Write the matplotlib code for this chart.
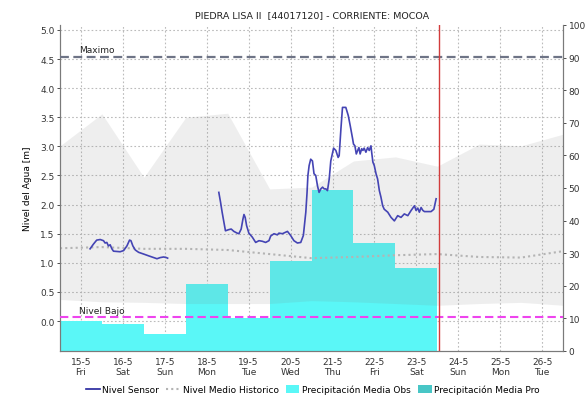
import matplotlib
matplotlib.use("Agg")

import numpy as np
import pandas as pd
import matplotlib.pyplot as plt
from matplotlib.lines import Line2D
from matplotlib.patches import Patch
from matplotlib.ticker import FixedLocator


# -------------------------------------------------
# DATA
# -------------------------------------------------

start = pd.Timestamp("2020-05-15 00:00")
n_days = 12

# sensor level (m), hours counted from 15-5 00:00
sensor_hours_a = [17.2, 19.1, 21.0, 23.0, 24.9, 25.8, 26.8, 27.7, 28.7, 29.7,
                  30.6, 34.4, 36.4, 38.3, 39.8, 40.6, 41.7, 43.1, 45.0, 47.9,
                  50.7, 53.6, 55.5, 57.4, 59.3, 60.9, 61.6]
sensor_level_a = [1.24, 1.32, 1.39, 1.40, 1.38, 1.34, 1.35, 1.29, 1.31, 1.24,
                  1.20, 1.19, 1.21, 1.29, 1.39, 1.38, 1.29, 1.22, 1.18, 1.15,
                  1.12, 1.09, 1.07, 1.09, 1.10, 1.09, 1.08]

sensor_hours_b = [90.9, 91.9, 92.8, 93.8, 94.7, 96.6, 98.0, 99.5, 101.4, 102.4,
                  103.7, 104.7, 105.3, 106.0, 106.8, 108.1, 110.1, 112.0, 113.9, 115.8,
                  117.7, 119.6, 120.6, 122.5, 124.4, 125.3, 127.3, 130.2, 132.0, 133.9,
                  135.9, 137.8, 139.3, 140.7, 141.4, 141.9, 142.6, 143.5, 144.5, 145.4,
                  146.4, 147.4, 148.3, 149.3, 150.3, 151.2, 152.2, 153.1, 154.1, 155.0,
                  156.6, 157.9, 159.2, 159.8, 160.8, 161.7, 163.6, 165.0, 166.1, 167.5,
                  168.0, 168.8, 169.6, 170.4, 171.1, 171.8, 172.7, 173.4, 174.1, 175.1,
                  176.1, 177.0, 178.0, 178.4, 179.1, 179.9, 180.9, 181.8, 182.8, 183.7,
                  184.7, 185.6, 187.6, 189.5, 191.4, 193.3, 195.2, 197.1, 199.1, 201.0,
                  202.9, 203.8, 204.8, 205.7, 206.7, 207.7, 208.6, 210.5, 212.4, 214.0,
                  215.3]
sensor_level_b = [2.21, 2.04, 1.87, 1.70, 1.55, 1.57, 1.58, 1.54, 1.51, 1.50,
                  1.58, 1.75, 1.83, 1.78, 1.64, 1.51, 1.44, 1.35, 1.38, 1.37,
                  1.35, 1.38, 1.46, 1.50, 1.48, 1.51, 1.50, 1.54, 1.47, 1.38,
                  1.34, 1.35, 1.47, 1.87, 2.20, 2.50, 2.67, 2.78, 2.75, 2.53,
                  2.50, 2.32, 2.21, 2.27, 2.30, 2.27, 2.27, 2.24, 2.44, 2.75,
                  2.97, 2.93, 2.81, 2.84, 3.30, 3.67, 3.67, 3.53, 3.36, 3.13,
                  3.04, 3.01, 2.87, 2.93, 2.98, 2.87, 2.96, 2.93, 2.97, 2.90,
                  2.98, 2.93, 3.01, 2.90, 2.73, 2.67, 2.53, 2.44, 2.24, 2.13,
                  1.98, 1.92, 1.87, 1.78, 1.72, 1.81, 1.78, 1.84, 1.81, 1.90,
                  1.98, 1.90, 1.94, 1.87, 1.95, 1.90, 1.88, 1.88, 1.88, 1.92,
                  2.10]

# historic band (min / max) and historic mean, one value per day at 00:00
hist_upper = [3.01, 3.56, 2.47, 3.50, 3.57, 2.27, 2.30, 2.75, 2.82, 2.66, 3.04, 3.01, 3.21]
hist_lower = [0.37, 0.33, 0.32, 0.30, 0.30, 0.30, 0.35, 0.33, 0.30, 0.27, 0.30, 0.32, 0.27]
hist_mean = [1.25, 1.27, 1.24, 1.24, 1.22, 1.15, 1.08, 1.10, 1.13, 1.15, 1.10, 1.09, 1.20]

# daily precipitation (mm), observed 15-5..23-5 and forecast 24-5..26-5
precip_obs = [9.2, 8.2, 5.3, 20.5, 10.0, 27.6, 49.5, 33.0, 25.6]
precip_pro = [0.0, 0.0, 0.0]

nivel_maximo = 4.54
nivel_bajo = 0.07
now_time = pd.Timestamp("2020-05-24 01:00")

level_lim = (-0.515, 5.086)
precip_lim = (0, 100)


# -------------------------------------------------
# PLOT
# -------------------------------------------------

plt.rcParams["font.family"] = ["DejaVu Sans"]

fig = plt.figure(figsize=(5.85, 4.02), dpi=100)
ax2 = fig.add_axes([0.1026, 0.1244, 0.86, 0.811])   # precipitation (right)
ax = ax2.twinx()                                      # water level (left)
ax.yaxis.tick_left()
ax.yaxis.set_label_position("left")
ax2.yaxis.tick_right()
ax2.yaxis.set_label_position("right")
ax.set_zorder(ax2.get_zorder() + 1)
ax.patch.set_visible(False)

days = pd.date_range(start, periods=n_days + 1, freq="D")
obs_days = days[:len(precip_obs)]
pro_days = days[len(precip_obs):len(precip_obs) + len(precip_pro)]

ax2.bar(obs_days, precip_obs, width=1.0, align="edge",
        color="#5af7f7", edgecolor="none", zorder=2)
ax2.bar(pro_days, precip_pro, width=1.0, align="edge",
        color="#48c6c6", edgecolor="none", zorder=2)
ax2.set_ylim(*precip_lim)
ax2.set_yticks(np.arange(0, 101, 10))

# grid lines follow the level axis ticks
level_ticks = np.arange(0, 5.01, 0.5)
grid_pos = (level_ticks - level_lim[0]) / (level_lim[1] - level_lim[0]) * 100
ax2.yaxis.set_minor_locator(FixedLocator(grid_pos))
ax2.grid(which="minor", axis="y", color="#bbbbbb", linestyle=(0, (1.5, 2)), linewidth=0.8, zorder=0)
ax2.grid(which="major", axis="x", color="#bbbbbb", linestyle=(0, (1.5, 2)), linewidth=0.8, zorder=0)
ax2.tick_params(axis="y", which="minor", length=0)
ax2.set_axisbelow(True)

# historic band on top of the bars
ax.fill_between(days, hist_lower, hist_upper, color="#808080", alpha=0.13,
                linewidth=0, zorder=1)
ax.plot(days, hist_mean, color="#b4b4b4", linestyle=(0, (1, 1.5)), linewidth=1.5, zorder=2)

ta = start + pd.to_timedelta(sensor_hours_a, unit="h")
tb = start + pd.to_timedelta(sensor_hours_b, unit="h")
ax.plot(ta, sensor_level_a, color="#4444b4", linewidth=1.2, zorder=3)
ax.plot(tb, sensor_level_b, color="#4444b4", linewidth=1.2, zorder=3)

ax.axhline(nivel_maximo, color="#6e7486", linestyle=(0, (4, 2)), linewidth=1.6, zorder=4)
ax.axhline(nivel_bajo, color="#ee44ee", linestyle=(0, (4, 2)), linewidth=1.5, zorder=4)
ax.axvline(now_time, color="#d23c3c", linewidth=1.0, zorder=5)

ax.text(start + pd.Timedelta(hours=11), nivel_maximo + 0.04, "Maximo",
        fontsize=6.5, color="#222222", va="bottom", ha="left", zorder=6)
ax.text(start + pd.Timedelta(hours=11), nivel_bajo + 0.03, "Nivel Bajo",
        fontsize=6.5, color="#222222", va="bottom", ha="left", zorder=6)

ax.set_ylim(*level_lim)
ax.set_yticks(level_ticks)
ax.yaxis.set_major_formatter(plt.FormatStrFormatter("%.1f"))
ax.set_ylabel("Nivel del Agua [m]", fontsize=6.5, labelpad=6)

ax.set_xlim(days[0], days[-1])
tick_days = days[:-1] + pd.Timedelta(hours=12)
ax.set_xticks(tick_days)
ax.set_xticklabels([f"{d.day}-{d.month}\n{d.strftime('%a')}" for d in tick_days])

for a in (ax, ax2):
    a.tick_params(labelsize=6.5, colors="#333333", length=2.5, width=0.6, pad=1.5)
    a.tick_params(axis="x", length=0, pad=4)
    a.spines["top"].set_visible(False)
    for side in ("left", "right", "bottom"):
        a.spines[side].set_color("#7a7a7a")
        a.spines[side].set_linewidth(0.8)

ax.set_title("PIEDRA LISA II  [44017120] - CORRIENTE: MOCOA", fontsize=6.8,
             color="#222222", pad=6)

handles = [
    Line2D([], [], color="#22229c", linewidth=1.2),
    Line2D([], [], color="#b4b4b4", linestyle=(0, (1, 1.5)), linewidth=1.5),
    Patch(facecolor="#5af7f7", edgecolor="none"),
    Patch(facecolor="#48c6c6", edgecolor="none"),
]
labels = ["Nivel Sensor", "Nivel Medio Historico",
          "Precipitación Media Obs", "Precipitación Media Pro"]
fig.legend(handles, labels, loc="lower center", bbox_to_anchor=(0.535, -0.003),
           ncol=4, frameon=False, fontsize=6.5, handlelength=1.5,
           handleheight=1.0, handletextpad=0.3, columnspacing=0.8)

fig.savefig("out.png", dpi=100)
plt.close(fig)
